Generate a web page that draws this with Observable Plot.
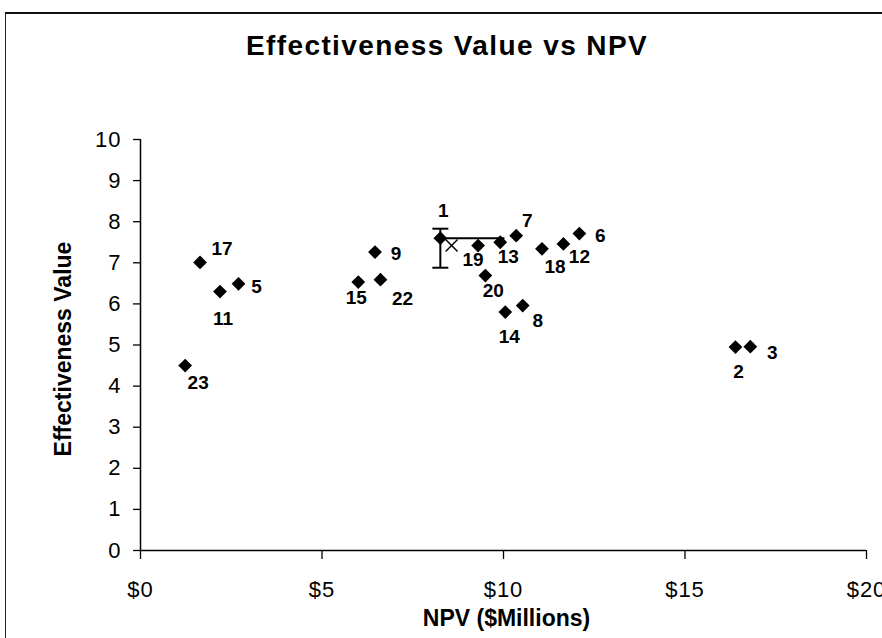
<!DOCTYPE html>
<html>
<head>
<meta charset="utf-8">
<script src="https://cdn.jsdelivr.net/npm/d3@7"></script>
<script src="https://cdn.jsdelivr.net/npm/@observablehq/plot@0.6"></script>
<style>
  html, body { margin: 0; padding: 0; background: #fff; overflow: hidden; }
  #wrap { position: relative; width: 882px; height: 638px; font-family: "Liberation Sans", Arial, sans-serif; }
  #frame { position: absolute; left: 5px; top: 12px; width: 900px; height: 700px;
           border-top: 2px solid #111; border-left: 1.5px solid #222; pointer-events: none; }
  #title { position: relative; height: 70px; box-sizing: border-box; padding-top: 32px;
           padding-left: 12px; text-align: center; font-size: 28px; line-height: 28px;
           font-weight: bold; letter-spacing: 1.4px; color: #000; }
  g[aria-label="axis-title"] text { letter-spacing: 1.4px; }
  g[aria-label="y-axis tick label"] text, g[aria-label="x-axis tick label"] text { letter-spacing: 1px; }
</style>
</head>
<body>
<div id="wrap">
  <div id="title">Effectiveness Value vs NPV</div>
  <div id="chart"></div>
  <div id="frame"></div>
</div>
<script>
// ---- data ----
const projectIds    = [1, 2, 3, 5, 6, 7, 8, 9, 11, 12, 13, 14, 15, 17, 18, 19, 20, 22, 23];
const npvMillions   = [8.26, 16.39, 16.80, 2.70, 12.09, 10.35, 10.53, 6.46, 2.19, 11.65, 9.91, 10.05, 6.00, 1.64, 11.06, 9.30, 9.50, 6.61, 1.23];
const effectiveness = [7.60, 4.95, 4.96, 6.49, 7.71, 7.66, 5.96, 7.26, 6.30, 7.46, 7.50, 5.80, 6.53, 7.01, 7.34, 7.42, 6.69, 6.59, 4.50];
// error bars drawn on project 1
const errorNpvRange = [8.26, 10.04];
const errorEffRange = [6.88, 7.83];
// extra "X" marker
const xMarkNpv = [8.57];
const xMarkEff = [7.42];
// ticks
const xTicks = [0, 5, 10, 15, 20];
const yTicks = [0, 1, 2, 3, 4, 5, 6, 7, 8, 9, 10];
const titleText = "Effectiveness Value vs NPV";
const xLabel = "NPV ($Millions)";
const yLabel = "Effectiveness Value";

// ---- build ----
const points = projectIds.map((id, i) => ({id, npv: npvMillions[i], eff: effectiveness[i]}));
const errV = [{x: errorNpvRange[0], y1: errorEffRange[0], y2: errorEffRange[1]}];
const errH = [{y: points[0].eff, x1: errorNpvRange[0], x2: errorNpvRange[1]}];
const caps = [{x: errorNpvRange[0], y: errorEffRange[0]}, {x: errorNpvRange[0], y: errorEffRange[1]}];
const xMarks = xMarkNpv.map((v, i) => ({npv: v, eff: xMarkEff[i]}));

// label placement (pixel offsets relative to marker)
const labelOffset = {
  1: [3, -27], 2: [3, 25], 3: [22, 6], 5: [18, 3], 6: [21, 2], 7: [11, -15], 8: [15, 15],
  9: [21, 2], 11: [3, 27], 12: [16, 13], 13: [8, 15], 14: [4, 25], 15: [-2, 16],
  17: [22, -13], 18: [13, 18], 19: [-5, 14], 20: [8, 15], 22: [22, 19], 23: [13, 17]
};

const capSymbol = {
  draw(ctx, size) {
    const w = Math.sqrt(size / Math.PI);
    ctx.moveTo(-w, 0);
    ctx.lineTo(w, 0);
  }
};

const labelMarks = points.map(p => Plot.text([p], {
  x: "npv", y: "eff", text: d => String(d.id),
  dx: labelOffset[p.id][0], dy: labelOffset[p.id][1],
  textAnchor: "middle", lineAnchor: "middle",
  fontWeight: "bold", fontSize: 19, fill: "black"
}));

const chart = Plot.plot({
  width: 882,
  height: 568,
  marginLeft: 140,
  marginRight: 16,
  marginTop: 69,
  marginBottom: 88,
  style: {fontFamily: "'Liberation Sans', Arial, sans-serif", fontSize: "22px", color: "black", background: "white", overflow: "visible"},
  x: {domain: [0, 20]},
  y: {domain: [0, 10]},
  marks: [
    Plot.axisY(yTicks, {tickSize: 7, tickPadding: 12, fontSize: 22, label: null, strokeWidth: 1.3}),
    Plot.axisX(xTicks, {tickSize: 9, tickPadding: 22, fontSize: 22, label: null, tickFormat: d => "$" + d, strokeWidth: 1.3}),
    Plot.ruleX([0], {y1: 0, y2: 10, stroke: "black", strokeWidth: 1.5}),
    Plot.ruleY([0], {x1: 0, x2: 20, stroke: "black", strokeWidth: 1.5}),
    Plot.ruleX(errV, {x: "x", y1: "y1", y2: "y2", stroke: "black", strokeWidth: 2}),
    Plot.ruleY(errH, {y: "y", x1: "x1", x2: "x2", stroke: "black", strokeWidth: 2}),
    Plot.dot(caps, {x: "x", y: "y", symbol: capSymbol, r: 8, stroke: "black", fill: "none", strokeWidth: 2}),
    Plot.dot(points, {x: "npv", y: "eff", symbol: "diamond2", r: 6.2, fill: "black", stroke: "none"}),
    Plot.dot(xMarks, {x: "npv", y: "eff", symbol: "times", r: 5.5, stroke: "black", strokeWidth: 1.5}),
    ...labelMarks,
    Plot.text([xLabel], {frameAnchor: "bottom", dx: 3, dy: 68, lineAnchor: "middle", textAnchor: "middle",
      fontWeight: "bold", fontSize: 23, fill: "black", ariaLabel: "axis-title"}),
    Plot.text([yLabel], {frameAnchor: "left", dx: -77, dy: 4, rotate: -90, lineAnchor: "middle", textAnchor: "middle",
      fontWeight: "bold", fontSize: 23, fill: "black", ariaLabel: "axis-title"})
  ]
});
document.getElementById("chart").appendChild(chart);
</script>
</body>
</html>
